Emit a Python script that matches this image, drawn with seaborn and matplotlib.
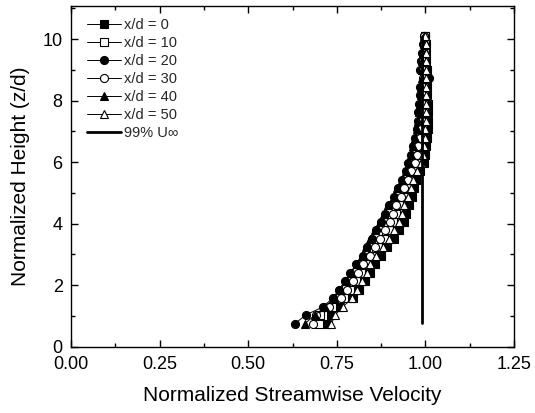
import matplotlib
matplotlib.use("Agg")
import matplotlib.pyplot as plt
import seaborn as sns
import pandas as pd
from matplotlib.ticker import MultipleLocator, FormatStrFormatter

# ---- data ----
z = [0.75, 1.03, 1.30, 1.58, 1.85, 2.13, 2.40, 2.68, 2.95, 3.23, 3.50, 3.78,
     4.05, 4.33, 4.60, 4.88, 5.15, 5.43, 5.70, 5.98, 6.25, 6.53, 6.80, 7.08,
     7.35, 7.63, 7.90, 8.18, 8.45, 8.73, 9.00, 9.28, 9.55, 9.83, 10.10]

u_xd0 = [0.720, 0.735, 0.755, 0.795, 0.812, 0.830, 0.845, 0.857, 0.874, 0.892, 0.910, 0.925,
         0.940, 0.946, 0.953, 0.962, 0.968, 0.974, 0.985, 0.995, 1.000, 1.003, 1.005, 1.007,
         1.007, 1.006, 1.006, 1.005, 1.005, 1.004, 1.004, 1.003, 1.003, 1.002, 1.000]
u_xd10 = [0.700, 0.704, 0.736, 0.770, 0.786, 0.804, 0.819, 0.833, 0.850, 0.865, 0.883, 0.897,
          0.909, 0.918, 0.926, 0.940, 0.948, 0.956, 0.967, 0.976, 0.981, 0.985, 0.989, 0.993,
          0.994, 0.995, 0.995, 0.996, 0.996, 0.996, 0.997, 0.997, 0.998, 0.998, 0.998]
u_xd20 = [0.632, 0.662, 0.712, 0.738, 0.756, 0.772, 0.787, 0.805, 0.823, 0.835, 0.848, 0.860,
          0.875, 0.886, 0.897, 0.912, 0.923, 0.935, 0.944, 0.952, 0.958, 0.964, 0.970, 0.975,
          0.978, 0.980, 0.982, 0.984, 0.985, 1.010, 0.986, 0.988, 0.990, 0.992, 0.995]
u_xd30 = [0.682, 0.690, 0.729, 0.761, 0.778, 0.795, 0.810, 0.825, 0.843, 0.857, 0.872, 0.885,
          0.899, 0.909, 0.918, 0.932, 0.940, 0.950, 0.960, 0.970, 0.975, 0.980, 0.984, 0.988,
          0.990, 0.991, 0.992, 0.993, 0.993, 0.993, 0.994, 0.994, 0.995, 0.996, 0.997]
u_xd40 = [0.660, 0.688, 0.718, 0.742, 0.760, 0.776, 0.790, 0.806, 0.822, 0.832, 0.845, 0.857,
          0.873, 0.884, 0.894, 0.910, 0.921, 0.934, 0.944, 0.953, 0.960, 0.966, 0.972, 0.976,
          0.980, 0.983, 0.985, 0.987, 0.988, 0.989, 0.990, 0.991, 0.993, 0.995, 0.997]
u_xd50 = [0.735, 0.745, 0.768, 0.792, 0.806, 0.820, 0.834, 0.845, 0.862, 0.879, 0.897, 0.912,
          0.925, 0.933, 0.941, 0.952, 0.960, 0.965, 0.977, 0.987, 0.992, 0.995, 0.998, 1.000,
          1.001, 1.001, 1.001, 1.001, 1.001, 1.001, 1.001, 1.001, 1.001, 1.001, 1.000]

ref_u = [0.99, 0.99]
ref_z = [0.78, 10.10]

labels = ["x/d = 0", "x/d = 10", "x/d = 20", "x/d = 30", "x/d = 40", "x/d = 50"]
ref_label = "99% U\u221e"
xlabel = "Normalized Streamwise Velocity"
ylabel = "Normalized Height (z/d)"

series = [u_xd0, u_xd10, u_xd20, u_xd30, u_xd40, u_xd50]
markers = ["s", "s", "o", "o", "^", "^"]
faces = ["black", "white", "black", "white", "black", "white"]

sns.set_theme(style="ticks")
plt.rcParams["font.family"] = ["Liberation Sans", "DejaVu Sans"]

fig = plt.figure(figsize=(5.35, 4.13), dpi=100)
ax = fig.add_axes([71 / 535, (413 - 346.7) / 413, (514 - 71) / 535, (346.7 - 5.7) / 413])

for lab, u, m, fc in zip(labels, series, markers, faces):
    df = pd.DataFrame({"u": u, "z": z})
    sns.lineplot(data=df, x="u", y="z", estimator=None, sort=False, ax=ax,
                 color="black", lw=0.7, marker=m, markerfacecolor=fc,
                 markeredgecolor="black", markeredgewidth=0.8, markersize=5.8,
                 label=lab)

sns.lineplot(x=ref_u, y=ref_z, estimator=None, sort=False, ax=ax,
             color="black", lw=2.0, label=ref_label)

ax.set_xlim(0, 1.25)
ax.set_ylim(0, 11.09)
ax.xaxis.set_major_locator(MultipleLocator(0.25))
ax.xaxis.set_minor_locator(MultipleLocator(0.125))
ax.xaxis.set_major_formatter(FormatStrFormatter("%.2f"))
ax.yaxis.set_major_locator(MultipleLocator(2))
ax.yaxis.set_minor_locator(MultipleLocator(1))
ax.tick_params(which="both", direction="in", top=True, right=True,
               labelsize=13, colors="black", width=1)
ax.tick_params(which="major", length=5)
ax.tick_params(which="minor", length=3)
ax.tick_params(axis="x", which="major", pad=7)
ax.tick_params(axis="y", which="major", pad=6)
for sp in ax.spines.values():
    sp.set_color("black")
    sp.set_linewidth(1.0)

ax.set_xlabel(xlabel, fontsize=15, color="black", labelpad=9)
ax.set_ylabel(ylabel, fontsize=15, color="black", labelpad=9)

leg = ax.legend(loc="upper left", bbox_to_anchor=((87 - 71) / 443, 0.965),
                frameon=False, fontsize=10.5, handlelength=2.3,
                handletextpad=0.25, labelspacing=0.28, borderpad=0,
                borderaxespad=0)

fig.savefig("out.png", dpi=100)
